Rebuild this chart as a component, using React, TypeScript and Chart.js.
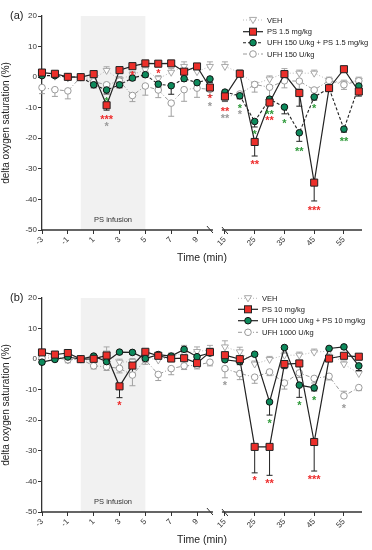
import React, { useEffect, useRef } from "react";
import { Chart, registerables } from "chart.js";
Chart.register(...registerables);

// ---------- data ----------
const times = [-3, -2, -1, 0, 1, 2, 3, 4, 5, 6, 7, 8, 9, 10, 15, 20, 25, 30, 35, 40, 45, 50, 55, 60];
const tickTimes = [-3, -1, 1, 3, 5, 7, 9, 15, 25, 35, 45, 55];
const tickLabels = ["-3", "-1", "1", "3", "5", "7", "9", "15", "25", "35", "45", "55"];
const yMin = -50;
const yMax = 20;
const infusionStart = 0;
const infusionEnd = 5;

// panel (a)
const vehA = [0.8, 0.3, -0.3, 0, -0.5, 2.2, -0.8, 0.8, 2.4, -0.5, 1.6, 3.5, 1.8, 3.5, 3.5, 1.5, -2.3, -0.6, 1.3, 1.3, 1.3, -1.0, -2.0, -1.0];
const vehAErr = [1, 1, 1, 0, 1, 1.2, 1, 1, 1, 1, 1.2, 1.5, 1.5, 1.5, 1.5, 1, -1, 1, 1.5, 1, 1, 1, 1, 1];
const psA = [1.5, 1.1, 0.1, 0, 1.0, -9.2, 2.3, 3.6, 4.5, 4.4, 4.5, 1.8, 3.5, -3.4, -6.3, 1.1, -21.2, -8.3, 1.0, -5.2, -34.5, -3.6, 2.6, -4.7];
const psAErr = [-0.6, -0.6, -0.6, 0, -0.6, -1.6, -0.6, -0.5, -0.5, -0.5, -0.5, -0.8, -0.6, -1.2, -1.5, -0.6, -4.6, -1.0, -0.6, -4.3, -6.0, -1.0, -0.6, -1.5];
const ufhPsA = [0.5, 0.5, 0.1, 0, -2.5, -4.2, -2.5, -0.3, 0.8, -2.3, -2.8, -0.5, -1.8, -0.6, -4.9, -6.1, -14.5, -7.2, -9.8, -18.2, -6.5, -3.6, -17.0, -2.9];
const ufhPsAErr = [-0.6, -0.6, -0.6, 0, -1.0, -1.3, -1.0, -0.8, -0.8, -1.0, -2.8, -0.8, -1.0, -1.2, -1.0, -1.0, -1.8, -1.0, -2.2, -2.8, -1.0, -1.0, -1.0, -1.0];
const ufhA = [-3.4, -4.1, -4.5, 0, -1.5, -2.5, -1.3, -6.0, -2.9, -4.2, -8.5, -4.1, -3.6, -4.0, -6.5, -5.5, -2.4, -3.3, -1.2, -1.3, -4.2, -1.1, -2.5, -1.2];
const ufhAErr = [-2.0, -2.2, -2.6, 0, -1.0, -1.5, -2.0, -2.0, -3.0, -2.5, -4.3, -3.8, -3.0, -2.0, -1.5, -1.5, -2.5, -3.2, -2.3, -2.5, -2.0, -2.0, -1.5, -1.5];

// panel (b)
const vehB = [1.0, 1.2, -0.3, 0, -0.5, 2.0, -1.0, -0.8, 0.5, -0.3, 0.8, 2.0, 2.5, 3.0, 4.0, 2.4, -1.6, -0.1, 1.3, 1.3, 2.3, 2.6, -1.6, -4.7];
const vehBErr = [1, 1, 1, 0, 1, 2.0, 1, 1, 1, 1, 1.2, 2.5, 1.5, 1.5, 2.0, 1.5, 1, 1, 1, 1, 1, 1, 1, 1];
const psB = [2.2, 1.5, 2.0, 0, 0.1, 1.2, -8.9, -2.1, 2.4, 1.1, 0.2, 0.3, -1.3, 2.3, 1.3, 0, -28.7, -28.7, -1.6, -1.4, -27.1, 0.2, 1.1, 0.8];
const psBErr = [-0.6, -0.6, -0.6, 0, -0.6, -0.6, -3.7, -2.5, -0.6, -0.6, -0.6, -0.6, -1.3, -0.6, -0.6, -1.0, -8.5, -9.3, -1.5, -1.0, -9.5, -0.6, -0.6, -1.0];
const ufhPsB = [-1.0, -0.1, 0.7, 0, 1.0, -0.8, 2.3, 2.2, 0.2, 1.5, 1.0, 3.2, 0.8, 2.0, -0.2, -0.8, 1.6, -14.0, 3.8, -8.5, -9.4, 3.5, 4.0, -2.2];
const ufhPsBErr = [-0.6, -0.6, -0.6, 0, -0.6, -0.6, -0.6, -0.6, -0.6, -0.6, -0.6, -0.6, -0.6, -0.6, -0.6, -1.0, -0.6, -4.3, -0.6, -4.0, -1.0, -0.6, -0.6, -1.5];
const ufhB = [0.3, 0.5, -0.2, 0, -2.2, -2.5, -3.0, -5.2, -0.2, -5.0, -3.1, -2.2, -2.0, -1.0, -3.1, -4.7, -5.9, -4.2, -7.8, -4.5, -6.3, -5.6, -12.0, -9.3];
const ufhBErr = [-1.0, -1.0, -1.0, 0, -1.0, -1.2, -1.5, -3.5, -1.5, -2.0, -2.0, -1.2, -1.2, -1.2, -3.0, -2.0, -2.0, -1.2, -2.0, -1.5, -1.5, -1.2, 1.5, -1.0];

// significance marks: [time, value, text, colour key]
const starsA: [number, number, string, string][] = [
  [2, -12.9, "***", "red"], [2, -15.0, "*", "grey"], [2, -7.1, "*", "green"],
  [4, 1.6, "*", "red"], [6, 2.1, "*", "red"],
  [10, -6.0, "*", "red"], [10, -8.6, "*", "grey"],
  [15, -10.2, "**", "red"], [15, -12.6, "**", "grey"],
  [20, -9.3, "*", "green"], [20, -11.4, "*", "grey"],
  [25, -17.7, "*", "green"], [25, -27.7, "**", "red"],
  [30, -11.4, "**", "green"], [30, -13.2, "**", "red"],
  [35, -14.2, "*", "green"], [40, -23.4, "**", "green"],
  [45, -9.3, "*", "green"], [45, -42.5, "***", "red"],
  [55, -20.1, "**", "green"],
];
const starsB: [number, number, string, string][] = [
  [3, -14.3, "*", "red"], [15, -7.6, "*", "grey"],
  [25, -38.8, "*", "red"], [30, -20.2, "*", "green"], [30, -39.7, "**", "red"],
  [40, -14.3, "*", "green"], [45, -12.4, "*", "green"], [45, -38.4, "***", "red"],
  [55, -15.3, "*", "grey"],
];

const legendA = ["VEH", "PS 1.5 mg/kg", "UFH 150 U/kg + PS 1.5 mg/kg", "UFH 150 U/kg"];
const legendB = ["VEH", "PS 10 mg/kg", "UFH 1000 U/kg + PS 10 mg/kg", "UFH 1000 U/kg"];

// ---------- styling / layout ----------
const FONT = "'Liberation Sans', Arial, sans-serif";
const RED = "#ec2f2a";
const GREEN = "#0d8a5c";
const STAR = { red: "#ee2b2b", green: "#2f9a3a", grey: "#9a9a9a" } as Record<string, string>;
const GAP = 1.16;
const RATIO = 0.2303;
const X_MAX = 21.77;
const tx = (t: number) => (t <= 10 ? t : 10 + GAP + (t - 15) * RATIO);

type SeriesStyle = {
  marker: string;
  lineColor: string;
  dash: number[];
  lineWidth: number;
  errColor: string;
};
const S_VEH: SeriesStyle = { marker: "tri", lineColor: "#b8b8b8", dash: [1, 2], lineWidth: 1, errColor: "#a8a8a8" };
const S_PS: SeriesStyle = { marker: "rect", lineColor: "#222", dash: [], lineWidth: 1.2, errColor: "#222" };
const S_UFHPS_A: SeriesStyle = { marker: "circle", lineColor: "#222", dash: [3, 2], lineWidth: 1.1, errColor: "#222" };
const S_UFHPS_B: SeriesStyle = { marker: "circle", lineColor: "#222", dash: [], lineWidth: 1.2, errColor: "#222" };
const S_UFH: SeriesStyle = { marker: "ocircle", lineColor: "#9a9a9a", dash: [4, 2, 1, 2], lineWidth: 1, errColor: "#a0a0a0" };

function drawMarker(ctx: CanvasRenderingContext2D, kind: string, x: number, y: number) {
  ctx.save();
  ctx.setLineDash([]);
  ctx.lineWidth = 1;
  if (kind === "rect") {
    ctx.fillStyle = RED;
    ctx.strokeStyle = "#222";
    ctx.fillRect(x - 3.5, y - 3.5, 7, 7);
    ctx.strokeRect(x - 3.5, y - 3.5, 7, 7);
  } else if (kind === "circle") {
    ctx.fillStyle = GREEN;
    ctx.strokeStyle = "#111";
    ctx.beginPath();
    ctx.arc(x, y, 3.3, 0, Math.PI * 2);
    ctx.fill();
    ctx.stroke();
  } else if (kind === "ocircle") {
    ctx.fillStyle = "#fff";
    ctx.strokeStyle = "#9a9a9a";
    ctx.beginPath();
    ctx.arc(x, y, 3.3, 0, Math.PI * 2);
    ctx.fill();
    ctx.stroke();
  } else {
    ctx.fillStyle = "#fff";
    ctx.strokeStyle = "#a8a8a8";
    ctx.beginPath();
    ctx.moveTo(x - 3.6, y - 2.6);
    ctx.lineTo(x + 3.6, y - 2.6);
    ctx.lineTo(x, y + 3.6);
    ctx.closePath();
    ctx.fill();
    ctx.stroke();
  }
  ctx.restore();
}

function toPoints(vals: number[]) {
  const pts: { x: number; y: number | null }[] = [];
  times.forEach((t, i) => {
    if (t === 15) pts.push({ x: tx(12.5), y: null });
    pts.push({ x: tx(t), y: vals[i] });
  });
  return pts;
}

type Series = { label: string; vals: number[]; errs: number[]; style: SeriesStyle };
type PanelCfg = {
  tag: string;
  series: Series[]; // drawing order: first on top
  stars: [number, number, string, string][];
  legendRows: number[];
  legendX: number;
  legendOrder: number[];
};

function makeDataset(s: Series) {
  const st = s.style;
  let pointStyle: any = "circle";
  let radius = 3.3;
  let bg = GREEN;
  let border = "#111";
  let rotation = 0;
  if (st.marker === "rect") { pointStyle = "rect"; radius = 5; bg = RED; border = "#222"; }
  if (st.marker === "ocircle") { bg = "#fff"; border = "#9a9a9a"; }
  if (st.marker === "tri") { pointStyle = "triangle"; radius = 4; bg = "#fff"; border = "#a8a8a8"; rotation = 180; }
  return {
    label: s.label,
    data: toPoints(s.vals),
    borderColor: st.lineColor,
    borderWidth: st.lineWidth,
    borderDash: st.dash,
    pointStyle,
    pointRadius: radius,
    pointBackgroundColor: bg,
    pointBorderColor: border,
    pointBorderWidth: 1,
    pointRotation: rotation,
    tension: 0,
    spanGaps: false,
    clip: false as any,
    fill: false,
  };
}

function makeDecor(cfg: PanelCfg) {
  return {
    id: "decor_" + cfg.tag,
    beforeDraw(chart: any) {
      const { ctx, chartArea, scales } = chart;
      const x = scales.x;
      const x0 = x.getPixelForValue(tx(infusionStart));
      const x1 = x.getPixelForValue(tx(infusionEnd));
      ctx.save();
      ctx.fillStyle = "#f1f1f1";
      ctx.fillRect(x0, chartArea.top, x1 - x0, chartArea.bottom - chartArea.top);
      ctx.fillStyle = "#333";
      ctx.font = `7.5px ${FONT}`;
      ctx.textAlign = "center";
      ctx.textBaseline = "middle";
      ctx.fillText("PS infusion", (x0 + x1) / 2, chartArea.bottom - 10);
      ctx.restore();
    },
    beforeDatasetsDraw(chart: any) {
      const { ctx, scales } = chart;
      const x = scales.x;
      const y = scales.y;
      ctx.save();
      ctx.lineWidth = 1;
      for (let k = cfg.series.length - 1; k >= 0; k--) {
        const s = cfg.series[k];
        ctx.strokeStyle = s.style.errColor;
        times.forEach((t, i) => {
          const e = s.errs[i];
          if (!e) return;
          const px = x.getPixelForValue(tx(t));
          const py = y.getPixelForValue(s.vals[i]);
          const pe = y.getPixelForValue(s.vals[i] + e);
          ctx.beginPath();
          ctx.moveTo(px, py);
          ctx.lineTo(px, pe);
          ctx.moveTo(px - 3, pe);
          ctx.lineTo(px + 3, pe);
          ctx.stroke();
        });
      }
      ctx.restore();
    },
    afterDraw(chart: any) {
      const { ctx, chartArea, scales } = chart;
      const x = scales.x;
      const y = scales.y;
      const yb = chartArea.bottom;
      const b1 = x.getPixelForValue(tx(10)) + 3;
      const b2 = x.getPixelForValue(tx(15)) - 3;
      ctx.save();
      // broken x axis
      ctx.strokeStyle = "#333";
      ctx.lineWidth = 1.3;
      ctx.beginPath();
      ctx.moveTo(chartArea.left, yb);
      ctx.lineTo(b1, yb);
      ctx.moveTo(b2, yb);
      ctx.lineTo(chartArea.right, yb);
      ctx.stroke();
      ctx.lineWidth = 1;
      ctx.beginPath();
      ctx.moveTo(b1 - 6, yb - 4);
      ctx.lineTo(b1, yb + 3);
      ctx.moveTo(b2, yb - 3);
      ctx.lineTo(b2 + 6, yb + 4);
      ctx.stroke();
      // stars
      ctx.textAlign = "center";
      ctx.textBaseline = "alphabetic";
      ctx.font = `bold 11px ${FONT}`;
      cfg.stars.forEach(([t, v, txt, c]) => {
        ctx.fillStyle = STAR[c];
        const px = x.getPixelForValue(tx(t));
        const py = y.getPixelForValue(v);
        ctx.fillText(txt, px, py + 6.5);
      });
      // legend
      cfg.legendOrder.forEach((k, row) => {
        const s = cfg.series[k];
        const ly = cfg.legendRows[row];
        const lx = cfg.legendX;
        ctx.save();
        ctx.strokeStyle = s.style.lineColor;
        ctx.lineWidth = s.style.lineWidth;
        ctx.setLineDash(s.style.dash);
        ctx.beginPath();
        ctx.moveTo(lx, ly);
        ctx.lineTo(lx + 20, ly);
        ctx.stroke();
        ctx.restore();
        drawMarker(ctx, s.style.marker, lx + 10, ly);
        ctx.fillStyle = "#222";
        ctx.font = `7.5px ${FONT}`;
        ctx.textAlign = "left";
        ctx.textBaseline = "middle";
        ctx.fillText(s.label, lx + 24, ly + 0.5);
      });
      // panel tag
      ctx.fillStyle = "#222";
      ctx.font = `11px ${FONT}`;
      ctx.textAlign = "left";
      ctx.textBaseline = "middle";
      ctx.fillText(`(${cfg.tag})`, 10, 16);
      ctx.restore();
    },
  };
}

const CANVAS_H = 268;

function Panel({ cfg, top }: { cfg: PanelCfg; top: number }) {
  const ref = useRef<HTMLCanvasElement>(null);
  useEffect(() => {
    const canvas = ref.current!;
    const chart = new Chart(canvas, {
      type: "line",
      data: { datasets: cfg.series.map(makeDataset) as any },
      options: {
        responsive: false,
        animation: false,
        events: [],
        layout: { padding: { top: 16, right: 10, left: 0, bottom: 0 } },
        plugins: { legend: { display: false }, tooltip: { enabled: false } },
        scales: {
          x: {
            type: "linear",
            min: -3,
            max: X_MAX,
            border: { display: false },
            grid: { drawOnChartArea: false, drawTicks: true, tickLength: 4, color: "#333", lineWidth: 1 },
            afterBuildTicks: (scale: any) => {
              scale.ticks = tickTimes.map((t) => ({ value: tx(t) }));
            },
            afterFit: (scale: any) => {
              scale.height = CANVAS_H - 230;
            },
            ticks: {
              autoSkip: false,
              minRotation: 45,
              maxRotation: 45,
              padding: 1,
              color: "#333",
              font: { family: FONT, size: 8 },
              callback: (_v: any, i: number) => tickLabels[i],
            },
            title: {
              display: true,
              text: "Time (min)",
              color: "#222",
              font: { family: FONT, size: 10.5 },
              padding: { top: 2, bottom: 4 },
            },
          },
          y: {
            type: "linear",
            min: yMin,
            max: yMax,
            border: { display: true, color: "#333", width: 1.3 },
            grid: { drawOnChartArea: false, drawTicks: true, tickLength: 4, color: "#333" },
            afterFit: (scale: any) => {
              scale.width = 42;
            },
            ticks: {
              stepSize: 10,
              padding: 1,
              color: "#333",
              font: { family: FONT, size: 8 },
            },
            title: {
              display: true,
              text: "delta oxygen saturation (%)",
              color: "#222",
              font: { family: FONT, size: 10 },
              padding: { top: 0, bottom: 2 },
            },
          },
        },
      } as any,
      plugins: [makeDecor(cfg)],
    });
    return () => chart.destroy();
  }, []);
  return (
    <div style={{ position: "absolute", left: 0, top, width: 372, height: CANVAS_H }}>
      <canvas ref={ref} width={372} height={CANVAS_H} style={{ width: 372, height: CANVAS_H, display: "block" }} />
    </div>
  );
}

const panelA: PanelCfg = {
  tag: "a",
  series: [
    { label: legendA[1], vals: psA, errs: psAErr, style: S_PS },
    { label: legendA[2], vals: ufhPsA, errs: ufhPsAErr, style: S_UFHPS_A },
    { label: legendA[3], vals: ufhA, errs: ufhAErr, style: S_UFH },
    { label: legendA[0], vals: vehA, errs: vehAErr, style: S_VEH },
  ],
  stars: starsA,
  legendRows: [20, 31.7, 42.7, 54],
  legendX: 243,
  legendOrder: [3, 0, 1, 2],
};

const panelB: PanelCfg = {
  tag: "b",
  series: [
    { label: legendB[1], vals: psB, errs: psBErr, style: S_PS },
    { label: legendB[2], vals: ufhPsB, errs: ufhPsBErr, style: S_UFHPS_B },
    { label: legendB[3], vals: ufhB, errs: ufhBErr, style: S_UFH },
    { label: legendB[0], vals: vehB, errs: vehBErr, style: S_VEH },
  ],
  stars: starsB,
  legendRows: [16.3, 27.3, 38.7, 50.3],
  legendX: 238,
  legendOrder: [3, 0, 1, 2],
};

export default function App() {
  return (
    <div style={{ position: "absolute", left: 0, top: 0, width: 372, height: 550, overflow: "hidden", background: "#fff" }}>
      <Panel cfg={panelA} top={0} />
      <Panel cfg={panelB} top={282} />
    </div>
  );
}
